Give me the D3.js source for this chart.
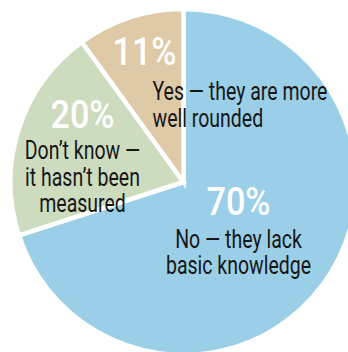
<!DOCTYPE html>
<html>
<head>
<meta charset="utf-8">
<script src="https://cdn.jsdelivr.net/npm/d3@7"></script>
<style>
  html, body { margin: 0; padding: 0; background: #fff; }
  svg { display: block; }
  text { font-family: Roboto, "Noto Sans", sans-serif; }
</style>
</head>
<body>
<div id="chart"></div>
<script>
// answers, clockwise from 12 o'clock
const answers = ["No", "Don't know", "Yes"]
const shares = [70, 20, 11]
const colors = ["#9bcfe7", "#cddcbe", "#dfcaa7"]
const captions = [
  ["No \u2014  they lack", "basic knowledge"],
  ["Don\u2019t know \u2014", "it hasn\u2019t been", "measured"],
  ["Yes \u2014  they are more", "well rounded"]
]

const width = 348
const height = 352
const cx = 183.5
const cy = 182
const radius = 173
// fake a condensed face
const squeeze = 0.78
const pctSqueeze = 0.9

const svg = d3
  .select('#chart')
  .append("svg")
    .attr('width', width)
    .attr('height', height)

// percent -> angle, last slice just fills what's left
const angle = d3.scaleLinear()
  .domain([0, 100])
  .range([0, Math.PI * 2])
  .clamp(true)

let acc = 0
const slices = shares.map((v, i) => {
  const s = { i, value: v, startAngle: angle(acc), endAngle: angle(acc + v) }
  acc += v
  return s
})

const arc = d3.arc()
  .innerRadius(0)
  .outerRadius(radius)

const g = svg.append("g")
  .attr('transform', `translate(${cx},${cy})`)

g.selectAll("path")
  .data(slices)
  .enter()
  .append("path")
    .attr('d', arc)
    .style('fill', d => colors[d.i])
    .style('stroke', "#fff")
    .style('stroke-width', 4.5)
    .style('stroke-linejoin', "miter")

// label positions (pct baseline + caption first baseline), relative to centre
const labelPos = [
  { x: 55, y: 33, cy: 66, anchor: "middle", tx: 55 },
  { x: -101, y: -54, cy: -23, anchor: "middle", tx: -101 },
  { x: -39, y: -117, cy: -82, anchor: "start", tx: -31 }
]

const labels = g.selectAll(".label")
  .data(slices)
  .enter()
  .append("g")
    .attr('class', "label")

labels.append("text")
    .attr('transform', d => `translate(${labelPos[d.i].x},${labelPos[d.i].y}) scale(${pctSqueeze},1)`)
    .attr('text-anchor', "middle")
    .style('fill', "#fff")
    .style('font-size', "38px")
    .style('font-weight', 500)
    .text(d => `${d.value}%`)

labels.append("g")
    .attr('transform', d => `translate(${labelPos[d.i].tx},0) scale(${squeeze},1)`)
  .append("text")
    .attr('text-anchor', d => labelPos[d.i].anchor)
    .style('fill', "#161616")
    .style('font-size', "25px")
  .selectAll("tspan")
  .data(d => captions[d.i].map(line => ({ line, d })))
  .enter()
  .append("tspan")
    .attr('x', 0)
    .attr('y', (t, j) => labelPos[t.d.i].cy + j * 26.5)
    .text(t => t.line)
</script>
</body>
</html>
